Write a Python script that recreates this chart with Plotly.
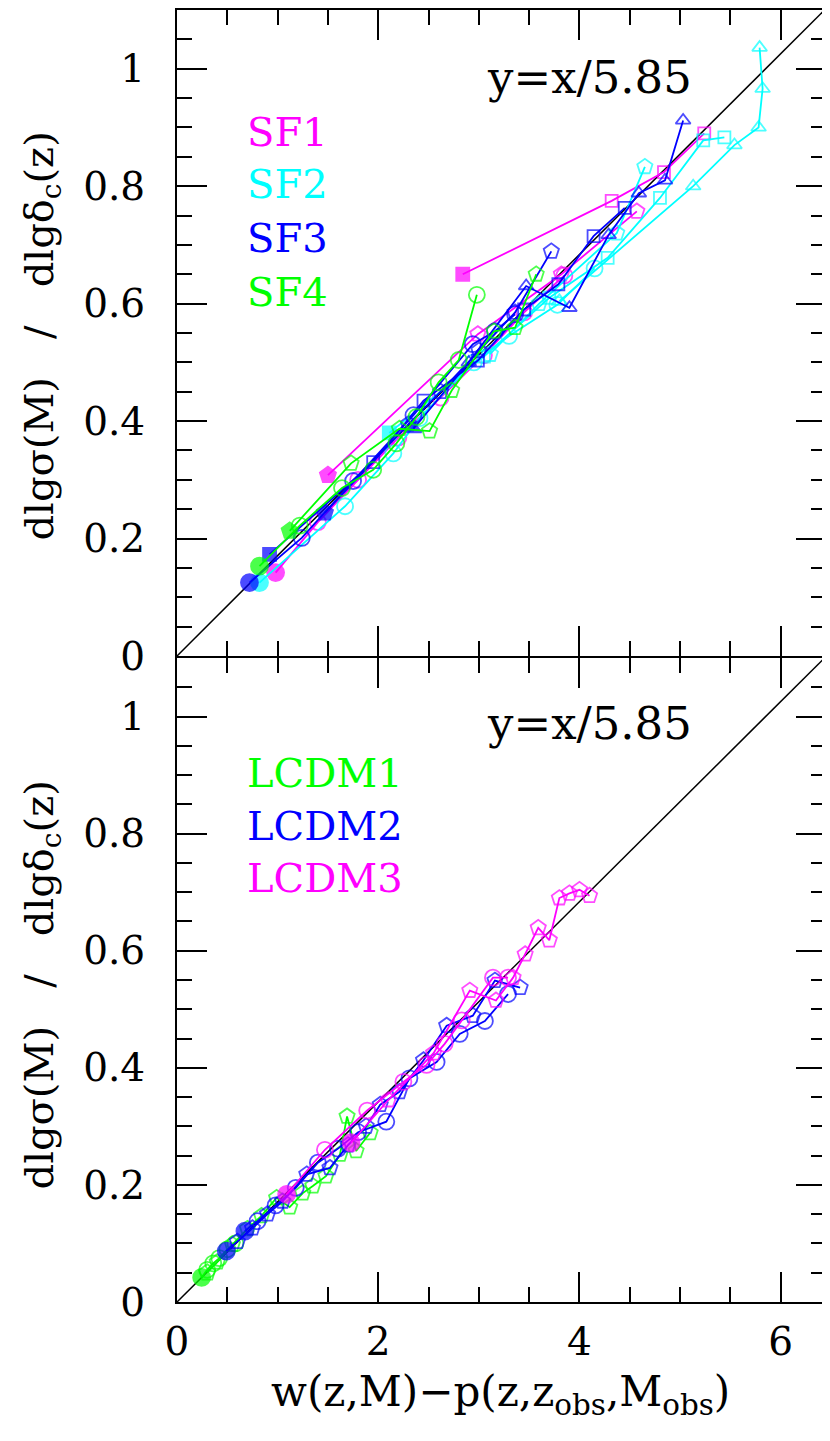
import plotly.graph_objects as go
from plotly.subplots import make_subplots

# colours of the runs
MAGENTA = "#ff00ff"
CYAN = "#00ffff"
BLUE = "#0000ff"
GREEN = "#00ff00"

SLOPE = 1 / 5.85  # reference line y = x/5.85
diag_x = [0.0, 6.45]

# ---- top panel: SF runs ----
sf1_circ_x = [0.98, 1.40, 1.80, 2.20, 2.62, 3.05, 3.45, 3.85]
sf1_circ_y = [0.142, 0.228, 0.300, 0.372, 0.440, 0.512, 0.585, 0.648]
sf1_pent_x = [1.50, 2.99, 3.82, 4.57]
sf1_pent_y = [0.308, 0.548, 0.650, 0.757]
sf1_sq_x = [2.84, 4.32, 4.84, 5.24]
sf1_sq_y = [0.650, 0.775, 0.824, 0.890]

sf2_circ_x = [0.82, 1.67, 2.15, 2.41, 2.95, 3.30, 3.78, 4.15]
sf2_circ_y = [0.125, 0.255, 0.345, 0.405, 0.500, 0.545, 0.598, 0.660]
sf2_pent_x = [3.11, 3.60, 4.37, 4.65]
sf2_pent_y = [0.514, 0.600, 0.720, 0.833]
sf2_sq_x = [2.11, 3.05, 3.70, 4.28, 4.80, 5.23, 5.44]
sf2_sq_y = [0.380, 0.510, 0.610, 0.678, 0.780, 0.878, 0.883]
sf2_tri_x = [3.80, 5.13, 5.54, 5.78, 5.82, 5.79]
sf2_tri_y = [0.604, 0.800, 0.870, 0.900, 0.966, 1.036]

sf3_circ_x = [0.72, 1.24, 1.75, 2.35, 2.94, 3.16, 3.36]
sf3_circ_y = [0.125, 0.201, 0.298, 0.410, 0.531, 0.553, 0.582]
sf3_pent_x = [1.47, 2.30, 2.62, 3.00, 3.36, 3.72]
sf3_pent_y = [0.244, 0.395, 0.450, 0.520, 0.585, 0.689]
sf3_sq_x = [0.92, 1.95, 2.45, 2.99, 3.45, 3.79, 4.14, 4.45]
sf3_sq_y = [0.173, 0.330, 0.435, 0.503, 0.590, 0.633, 0.715, 0.763]
sf3_tri_x = [2.35, 2.90, 3.47, 3.90, 4.29, 4.59, 4.85, 5.03]
sf3_tri_y = [0.387, 0.500, 0.630, 0.593, 0.717, 0.788, 0.810, 0.912]

sf4_circ_x = [0.82, 1.22, 1.64, 1.95, 2.18, 2.38, 2.60, 2.80, 2.98]
sf4_circ_y = [0.153, 0.222, 0.286, 0.317, 0.362, 0.407, 0.466, 0.504, 0.615]
sf4_pent_x = [1.12, 1.73, 2.21, 2.51, 2.73, 3.15, 3.36, 3.57]
sf4_pent_y = [0.213, 0.328, 0.387, 0.383, 0.452, 0.553, 0.559, 0.650]

# ---- bottom panel: LCDM runs ----
lc1_circ_x = [0.245, 0.30, 0.36, 0.42, 0.50, 0.58]
lc1_circ_y = [0.042, 0.055, 0.066, 0.075, 0.090, 0.100]
lc1_pent_x = [0.30, 0.40, 0.55, 0.70, 0.84, 0.99, 1.12, 1.25, 1.35, 1.48, 1.62, 1.69, 1.78, 1.92]
lc1_pent_y = [0.050, 0.068, 0.098, 0.125, 0.147, 0.178, 0.162, 0.186, 0.198, 0.215, 0.252, 0.317, 0.258, 0.289]

lc2_a_x = [0.49, 0.60, 0.75, 0.90, 1.05, 1.29, 1.52, 1.70, 1.88, 2.02, 2.21, 2.45, 2.68, 2.94, 3.16, 3.41]
lc2_a_y = [0.087, 0.103, 0.126, 0.150, 0.172, 0.218, 0.229, 0.268, 0.300, 0.337, 0.359, 0.413, 0.472, 0.489, 0.549, 0.537]
lc2_b_x = [0.675, 0.80, 0.98, 1.18, 1.40, 1.60, 1.80, 2.08, 2.31, 2.58, 2.81, 3.06, 3.29]
lc2_b_y = [0.121, 0.138, 0.165, 0.195, 0.238, 0.262, 0.290, 0.308, 0.382, 0.410, 0.458, 0.480, 0.526]

lc3_a_x = [1.09, 1.47, 1.89, 2.25, 2.48, 2.66, 2.83, 3.14, 3.29]
lc3_a_y = [0.184, 0.260, 0.327, 0.376, 0.405, 0.441, 0.481, 0.554, 0.554]
lc3_b_x = [1.73, 2.10, 2.55, 2.91, 3.17, 3.34, 3.46, 3.59, 3.70, 3.80, 3.90, 4.00, 4.10]
lc3_b_y = [0.272, 0.345, 0.425, 0.532, 0.515, 0.554, 0.594, 0.639, 0.618, 0.690, 0.698, 0.704, 0.694]

y_ticks = [0, 0.2, 0.4, 0.6, 0.8, 1]
y_ticktext = ["0", "0.2", "0.4", "0.6", "0.8", "1"]
x_ticks = [0, 2, 4, 6]

SIZES = {"circle": 16, "pentagon": 16, "square": 12, "triangle-up": 13}

fig = make_subplots(rows=2, cols=1, shared_xaxes=True, vertical_spacing=0)


def add_run(x, y, color, shape, row, head=None, filled=True):
    # first point filled (head shape), the rest open markers
    head = head or shape
    symbols = [head if filled else head + "-open"] + [shape + "-open"] * (len(x) - 1)
    sizes = [SIZES[head] + 1] + [SIZES[shape]] * (len(x) - 1)
    fig.add_trace(go.Scatter(
        x=x, y=y, mode="lines+markers",
        line=dict(color=color, width=1.8),
        marker=dict(symbol=symbols, size=sizes, color=color, line=dict(color=color, width=1.8)),
        showlegend=False, hoverinfo="skip"), row=row, col=1)


# diagonal reference lines
for r in (1, 2):
    fig.add_trace(go.Scatter(x=diag_x, y=[v * SLOPE for v in diag_x], mode="lines",
                             line=dict(color="black", width=1.5), showlegend=False,
                             hoverinfo="skip"), row=r, col=1)

add_run(sf1_circ_x, sf1_circ_y, MAGENTA, "circle", 1)
add_run(sf1_pent_x, sf1_pent_y, MAGENTA, "pentagon", 1)
add_run(sf1_sq_x, sf1_sq_y, MAGENTA, "square", 1)
add_run(sf2_circ_x, sf2_circ_y, CYAN, "circle", 1)
add_run(sf2_pent_x, sf2_pent_y, CYAN, "pentagon", 1, filled=False)
add_run(sf2_sq_x, sf2_sq_y, CYAN, "square", 1)
add_run(sf2_tri_x, sf2_tri_y, CYAN, "triangle-up", 1, filled=False)
add_run(sf3_circ_x, sf3_circ_y, BLUE, "circle", 1)
add_run(sf3_pent_x, sf3_pent_y, BLUE, "pentagon", 1)
add_run(sf3_sq_x, sf3_sq_y, BLUE, "square", 1)
add_run(sf3_tri_x, sf3_tri_y, BLUE, "triangle-up", 1)
add_run(sf4_circ_x, sf4_circ_y, GREEN, "circle", 1)
add_run(sf4_pent_x, sf4_pent_y, GREEN, "pentagon", 1)

add_run(lc1_circ_x, lc1_circ_y, GREEN, "circle", 2)
add_run(lc1_pent_x, lc1_pent_y, GREEN, "pentagon", 2, filled=False)
add_run(lc2_a_x, lc2_a_y, BLUE, "pentagon", 2, head="circle")
add_run(lc2_b_x, lc2_b_y, BLUE, "circle", 2)
add_run(lc3_a_x, lc3_a_y, MAGENTA, "circle", 2)
add_run(lc3_b_x, lc3_b_y, MAGENTA, "pentagon", 2, head="circle")

FONT = "DejaVu Serif"
axis_common = dict(
    showline=True, linecolor="black", linewidth=2, mirror="allticks",
    ticks="inside", ticklen=30, tickwidth=2, tickcolor="black",
    showgrid=False, zeroline=False,
    tickfont=dict(family=FONT, size=39, color="black"),
)
fig.update_xaxes(range=[0, 6.45], tickvals=x_ticks, ticklabelstandoff=4,
                 minor=dict(ticks="inside", ticklen=15, tickwidth=2, tickcolor="black", dtick=0.5, tick0=0),
                 **axis_common)
fig.update_yaxes(range=[0, 1.1], tickvals=y_ticks, ticktext=y_ticktext, ticklabelstandoff=22,
                 minor=dict(ticks="inside", ticklen=15, tickwidth=2, tickcolor="black", dtick=0.05, tick0=0),
                 **axis_common)
# let the shared border of the two panels overlap into a single line
fig.update_yaxes(domain=[0, 0.5 - 2 / 1294], row=2, col=1)


def note(text, x, y, size, color="black", xanchor="center", angle=0):
    return dict(text=text, x=x, y=y, xref="paper", yref="paper", showarrow=False,
                xanchor=xanchor, yanchor="middle", textangle=angle,
                font=dict(family=FONT, size=size, color=color))


ytitle = "dlgσ(M)&nbsp;&nbsp;&nbsp;/&nbsp;&nbsp;&nbsp;dlgδ<sub>c</sub>(z)"
ann = []
for yc in (0.7473, 0.245):
    ann.append(note(ytitle, -0.208, yc, 40, angle=-90))
for yc in (0.948, 0.4475):
    ann.append(note("y=x/5.85", 0.636, yc, 45))
for label, yc, col in [("SF1", 0.9057, MAGENTA), ("SF2", 0.8655, CYAN), ("SF3", 0.8238, BLUE),
                       ("SF4", 0.7821, GREEN), ("LCDM1", 0.4096, GREEN), ("LCDM2", 0.3686, BLUE),
                       ("LCDM3", 0.3284, MAGENTA)]:
    ann.append(note(label, 0.1048, yc, 40, col, xanchor="left"))
ann.append(note("w(z,M)−p(z,z<sub>obs</sub>,M<sub>obs</sub>)", 0.498, -0.0719, 42))

fig.update_layout(
    width=822, height=1425,
    margin=dict(l=169, r=4, t=0, b=131),
    paper_bgcolor="white", plot_bgcolor="white",
    annotations=ann,
)

fig.write_html("out.html")
